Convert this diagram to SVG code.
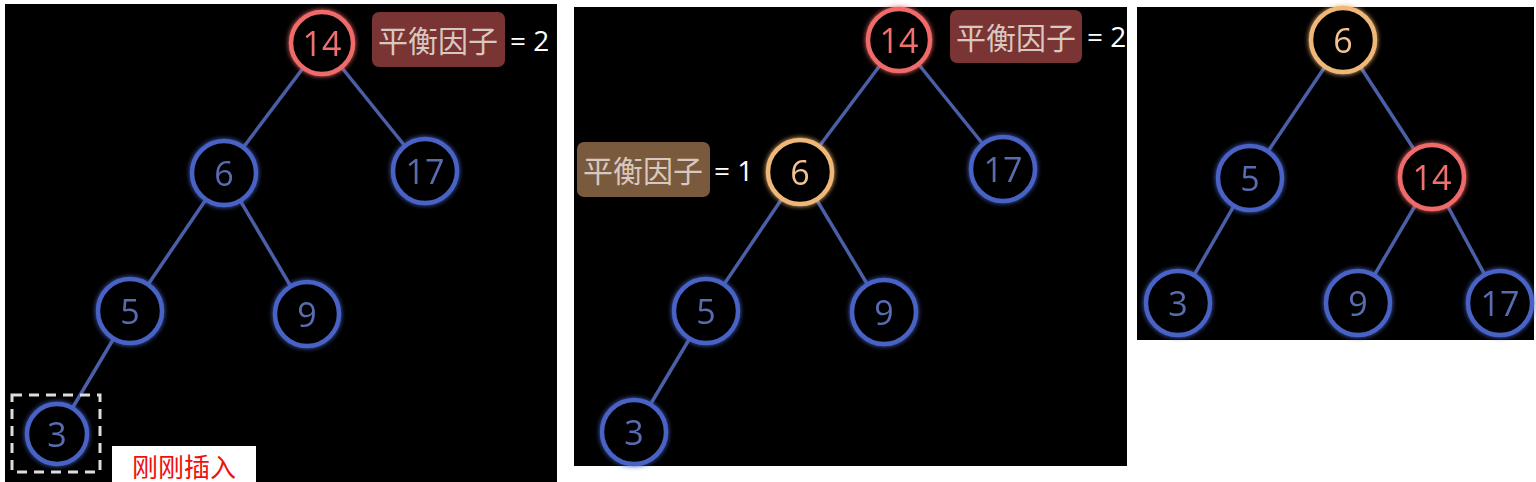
<svg xmlns="http://www.w3.org/2000/svg" width="1536" height="482" viewBox="0 0 1536 482">
<style>
.bg{fill:#000}
.e{stroke:#4b5fa8;stroke-width:3.5;fill:none}
circle{fill:#000;stroke-width:4.5}
.b circle{stroke:#4a62c6}
.b text{fill:#5a6cb0}
.r circle{stroke:#f06a6a}
.r text{fill:#f07070}
.o circle{stroke:#f0b878}
.o text{fill:#f2c290}
text{font-family:"Open Sans","Noto Sans","Noto Sans CJK SC",sans-serif;font-size:34px;text-anchor:middle;dominant-baseline:central}
.lab{fill:#d8c8c0;font-size:30px;font-family:"Noto Sans CJK SC",sans-serif}
.eq{fill:#fff;font-size:28px;text-anchor:start}
</style>
<defs>
<filter id="g" x="-50%" y="-50%" width="200%" height="200%"><feGaussianBlur stdDeviation="2.5" result="b"/><feMerge><feMergeNode in="b"/><feMergeNode in="SourceGraphic"/></feMerge></filter>
</defs>
<rect width="1536" height="482" fill="#fff"/>
<rect class="bg" x="5" y="4" width="552" height="478"/>
<rect class="bg" x="574" y="7" width="553" height="459"/>
<rect class="bg" x="1137" y="7" width="397" height="333"/>
<g id="connectors" class="e">
<line x1="322" y1="43" x2="224" y2="173"/><line x1="322" y1="43" x2="425" y2="171"/>
<line x1="224" y1="173" x2="130" y2="311"/><line x1="224" y1="173" x2="307" y2="314"/>
<line x1="130" y1="311" x2="57" y2="434"/>
<line x1="899" y1="40" x2="800" y2="172"/><line x1="899" y1="40" x2="1003" y2="169"/>
<line x1="800" y1="172" x2="706" y2="311"/><line x1="800" y1="172" x2="884" y2="312"/>
<line x1="706" y1="311" x2="634" y2="432"/>
<line x1="1343" y1="40" x2="1250" y2="178"/><line x1="1343" y1="40" x2="1432" y2="177"/>
<line x1="1250" y1="178" x2="1178" y2="303"/><line x1="1432" y1="177" x2="1358" y2="303"/><line x1="1432" y1="177" x2="1500" y2="303"/>
</g>
<g filter="url(#g)">
<g id="p1n14" class="r"><circle cx="322" cy="43" r="31"/><text x="322" y="43">14</text></g>
<g id="p1n6" class="b"><circle cx="224" cy="173" r="32"/><text x="224" y="173">6</text></g>
<g id="p1n17" class="b"><circle cx="425" cy="171" r="32"/><text x="425" y="171">17</text></g>
<g id="p1n5" class="b"><circle cx="130" cy="311" r="32"/><text x="130" y="311">5</text></g>
<g id="p1n9" class="b"><circle cx="307" cy="314" r="32"/><text x="307" y="314">9</text></g>
<g id="p1n3" class="b"><circle cx="57" cy="434" r="30"/><text x="57" y="434">3</text></g>
<g id="p2n14" class="r"><circle cx="899" cy="40" r="31"/><text x="899" y="40">14</text></g>
<g id="p2n6" class="o"><circle cx="800" cy="172" r="32"/><text x="800" y="172">6</text></g>
<g id="p2n17" class="b"><circle cx="1003" cy="169" r="32"/><text x="1003" y="169">17</text></g>
<g id="p2n5" class="b"><circle cx="706" cy="311" r="32"/><text x="706" y="311">5</text></g>
<g id="p2n9" class="b"><circle cx="884" cy="312" r="32"/><text x="884" y="312">9</text></g>
<g id="p2n3" class="b"><circle cx="634" cy="432" r="32"/><text x="634" y="432">3</text></g>
<g id="p3n6" class="o"><circle cx="1343" cy="40" r="32"/><text x="1343" y="40">6</text></g>
<g id="p3n5" class="b"><circle cx="1250" cy="178" r="32"/><text x="1250" y="178">5</text></g>
<g id="p3n14" class="r"><circle cx="1432" cy="177" r="32"/><text x="1432" y="177">14</text></g>
<g id="p3n3" class="b"><circle cx="1178" cy="303" r="32"/><text x="1178" y="303">3</text></g>
<g id="p3n9" class="b"><circle cx="1358" cy="303" r="32"/><text x="1358" y="303">9</text></g>
<g id="p3n17" class="b"><circle cx="1500" cy="303" r="32"/><text x="1500" y="303">17</text></g>
</g>
<g id="bf1"><rect x="372" y="12" width="133" height="55" rx="7" fill="#7a3434"/><text class="lab" x="438" y="39">平衡因子</text><text class="eq" x="510" y="40">= 2</text></g>
<g id="bf2"><rect x="950" y="10" width="132" height="53" rx="7" fill="#7a3434"/><text class="lab" x="1016" y="36">平衡因子</text><text class="eq" x="1087" y="36">= 2</text></g>
<g id="bf3"><rect x="577" y="142" width="133" height="55" rx="7" fill="#7a5a3c"/><text class="lab" x="643" y="169">平衡因子</text><text class="eq" x="714" y="170">= 1</text></g>
<rect id="newbox" x="12" y="395" width="88" height="77" fill="none" stroke="#ddd" stroke-width="3" stroke-dasharray="10,7"/>
<g id="note"><rect x="112" y="446" width="144" height="36" fill="#fff"/><text x="184" y="465" style="fill:#f01010;font-size:26px;font-family:'Noto Sans CJK SC',sans-serif">刚刚插入</text></g>
</svg>
